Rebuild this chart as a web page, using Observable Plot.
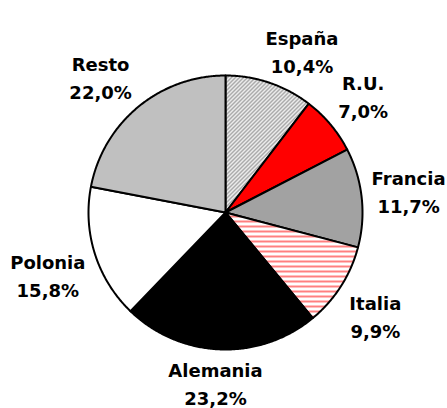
<!DOCTYPE html>
<html>
<head>
<meta charset="utf-8">
<script src="https://cdn.jsdelivr.net/npm/d3@7"></script>
<script src="https://cdn.jsdelivr.net/npm/@observablehq/plot@0.6"></script>
<style>
  html, body { margin: 0; padding: 0; background: #fff; }
</style>
</head>
<body>
<div id="chart"></div>
<script>
// ---- data ----
const countries = ["España", "R.U.", "Francia", "Italia", "Alemania", "Polonia", "Resto"];
const shares = [10.4, 7.0, 11.7, 9.9, 23.2, 15.8, 22.0];
const shareLabels = ["10,4%", "7,0%", "11,7%", "9,9%", "23,2%", "15,8%", "22,0%"];
const fills = ["url(#pEspana)", "#ff0000", "url(#pFrancia)", "url(#pItalia)", "#000000", "#ffffff", "#c0c0c0"];

// ---- geometry (unit pie, angle measured clockwise from 12 o'clock) ----
const W = 447, H = 408, R = 137, CX = 225, CY = 212;
const FONT_SIZE = 18, FONT = "bold 18px 'DejaVu Sans'";
const total = d3.sum(shares);
let acc = 0;
const slices = countries.map((name, i) => {
  const a0 = acc / total * 2 * Math.PI;
  acc += shares[i];
  const a1 = acc / total * 2 * Math.PI;
  return {name, a0, a1, mid: (a0 + a1) / 2, fill: fills[i], lines: [name, shareLabels[i]]};
});
const pts = [];
for (const s of slices) {
  pts.push({name: s.name, fill: s.fill, x: 0, y: 0});
  const n = Math.max(2, Math.ceil((s.a1 - s.a0) / (Math.PI / 360)));
  for (let k = 0; k <= n; k++) {
    const a = s.a0 + (s.a1 - s.a0) * k / n;
    pts.push({name: s.name, fill: s.fill, x: Math.sin(a), y: Math.cos(a)});
  }
}
// labels placed "outside end": box pushed out along the mid-angle so it clears the pie
const ctx = document.createElement("canvas").getContext("2d");
ctx.font = FONT;
const gap = 10, halfH = 23;
const clamp = v => Math.max(-1, Math.min(1, v * 2.5));
const labels = slices.map(s => {
  const w = d3.max(s.lines, t => ctx.measureText(t).width);
  const ux = Math.sin(s.mid), uy = Math.cos(s.mid);
  const px = (R + gap) * ux + (w / 2) * clamp(ux);
  const py = (R + gap) * uy + halfH * clamp(uy);
  return {label: s.lines.join("\n"), x: px / R, y: py / R};
});

// ---- pattern defs ----
function defsMark() {
  const defs = d3.create("svg:defs");
  const esp = defs.append("pattern").attr("id", "pEspana").attr("patternUnits", "userSpaceOnUse")
    .attr("width", 4).attr("height", 4);
  esp.append("rect").attr("width", 4).attr("height", 4).attr("fill", "#fff");
  esp.append("path").attr("d", "M-1,1 L1,-1 M0,4 L4,0 M3,5 L5,3")
    .attr("stroke", "#777").attr("stroke-width", 1.1);
  const fr = defs.append("pattern").attr("id", "pFrancia").attr("patternUnits", "userSpaceOnUse")
    .attr("width", 2).attr("height", 2).attr("shape-rendering", "crispEdges");
  fr.append("rect").attr("width", 2).attr("height", 2).attr("fill", "#eee");
  fr.append("rect").attr("x", 0).attr("y", 0).attr("width", 1).attr("height", 1).attr("fill", "#444");
  fr.append("rect").attr("x", 1).attr("y", 1).attr("width", 1).attr("height", 1).attr("fill", "#666");
  const it = defs.append("pattern").attr("id", "pItalia").attr("patternUnits", "userSpaceOnUse")
    .attr("width", 5).attr("height", 5);
  it.append("rect").attr("width", 5).attr("height", 5).attr("fill", "#fff");
  it.append("rect").attr("y", 0).attr("width", 5).attr("height", 2).attr("fill", "#ff8080");
  return defs.node();
}

const chart = Plot.plot({
  width: W,
  height: H,
  margin: 0,
  x: {domain: [-CX / R, (W - CX) / R], axis: null},
  y: {domain: [-(H - CY) / R, CY / R], axis: null},
  color: {type: "identity"},
  marks: [
    defsMark,
    Plot.line(pts, {x: "x", y: "y", z: "name", fill: "fill", stroke: "#000", strokeWidth: 2, curve: "linear-closed", strokeLinejoin: "round"}),
    Plot.text(labels, {x: "x", y: "y", text: "label", fontFamily: "DejaVu Sans", fontWeight: "bold", fontSize: FONT_SIZE, lineHeight: 1.55, textAnchor: "middle", lineAnchor: "middle", fill: "#000"})
  ]
});
chart.style.background = "#fff";
document.getElementById("chart").append(chart);
</script>
</body>
</html>
